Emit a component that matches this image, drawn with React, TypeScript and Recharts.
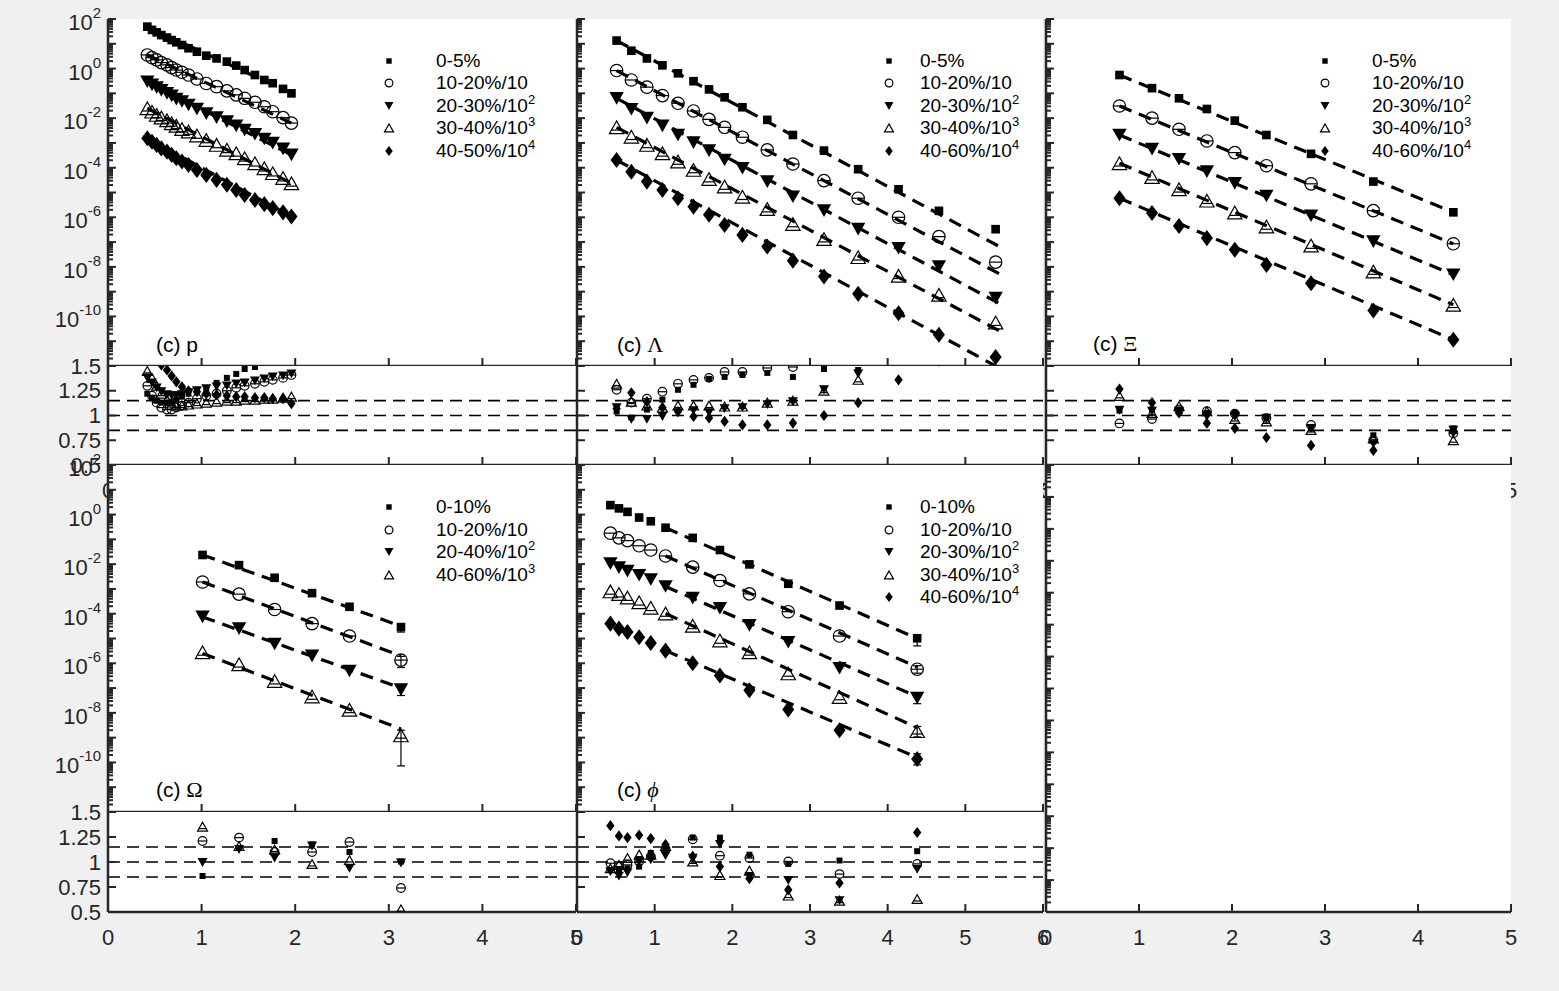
import React from "react";
import {
  ComposedChart,
  Scatter,
  Line,
  XAxis,
  YAxis,
  CartesianGrid,
  ReferenceLine,
  ErrorBar,
  Legend,
} from "recharts";

const AXIS = "#262626";
const FONT = '"Liberation Sans", Arial, Helvetica, sans-serif';
const SERIF = '"Liberation Serif", "Times New Roman", serif';

// ---- axis ticks / labels ----
const LOG_LABEL_EXP = [2, 0, -2, -4, -6, -8, -10];
const RATIO_TICKS = [0.5, 0.75, 1, 1.25, 1.5];
const RATIO_BANDS = [0.85, 1, 1.15];
const X_TICKS_5 = [0, 1, 2, 3, 4, 5];
const X_TICKS_6 = [0, 1, 2, 3, 4, 5, 6];

// ---- proton (log10 of yield) ----
const P_X = [0.42, 0.47, 0.52, 0.57, 0.63, 0.68, 0.73, 0.79, 0.86, 0.95, 1.05, 1.16, 1.27, 1.37, 1.46, 1.57, 1.67, 1.76, 1.87, 1.96];
const P_SQ = [1.69, 1.56, 1.46, 1.35, 1.25, 1.15, 1.06, 0.95, 0.82, 0.68, 0.52, 0.41, 0.28, 0.12, -0.06, -0.26, -0.46, -0.59, -0.82, -1.0];
const P_CI = [0.55, 0.44, 0.35, 0.24, 0.15, 0.04, -0.06, -0.15, -0.26, -0.42, -0.6, -0.73, -0.9, -1.06, -1.2, -1.36, -1.54, -1.74, -1.98, -2.2];
const P_TD = [-0.53, -0.66, -0.77, -0.88, -1.0, -1.1, -1.23, -1.33, -1.47, -1.63, -1.82, -1.98, -2.14, -2.31, -2.48, -2.65, -2.84, -3.01, -3.24, -3.48];
const P_TU = [-1.6, -1.74, -1.87, -1.98, -2.09, -2.21, -2.31, -2.44, -2.54, -2.7, -2.88, -3.08, -3.28, -3.42, -3.62, -3.82, -4.02, -4.22, -4.42, -4.63];
const P_DI = [-2.81, -2.95, -3.08, -3.22, -3.35, -3.48, -3.62, -3.75, -3.89, -4.09, -4.29, -4.49, -4.69, -4.9, -5.1, -5.3, -5.47, -5.63, -5.8, -5.97];
const P_FITS = [
  [0.42, 1.69, 1.96, -1.0],
  [0.42, 0.55, 1.96, -2.2],
  [0.42, -0.53, 1.96, -3.48],
  [0.42, -1.6, 1.96, -4.63],
  [0.42, -2.81, 1.96, -5.97],
];
const P_R_SQ = [1.22, 1.18, 1.15, 1.13, 1.13, 1.14, 1.16, 1.19, 1.22, 1.24, 1.26, 1.33, 1.38, 1.42, 1.47, 1.49, 1.55, 1.58, 1.6, 1.62];
const P_R_CI = [1.3, 1.2, 1.13, 1.08, 1.06, 1.06, 1.08, 1.1, 1.13, 1.17, 1.2, 1.22, 1.25, 1.28, 1.3, 1.32, 1.34, 1.36, 1.38, 1.41];
const P_R_TD = [1.38, 1.33, 1.28, 1.24, 1.21, 1.2, 1.2, 1.21, 1.23, 1.25, 1.27, 1.29, 1.3, 1.32, 1.33, 1.35, 1.37, 1.39, 1.4, 1.42];
const P_R_TU = [1.45, 1.38, 1.3, 1.22, 1.16, 1.12, 1.1, 1.1, 1.11, 1.12, 1.13, 1.14, 1.15, 1.15, 1.16, 1.16, 1.17, 1.17, 1.18, 1.19];
const P_R_DI = [1.7, 1.62, 1.56, 1.51, 1.46, 1.4, 1.34, 1.29, 1.25, 1.24, 1.22, 1.21, 1.2, 1.19, 1.19, 1.18, 1.18, 1.17, 1.17, 1.12];

// ---- Lambda ----
const LAM_X = [0.51, 0.7, 0.9, 1.1, 1.3, 1.5, 1.7, 1.9, 2.13, 2.45, 2.78, 3.18, 3.62, 4.14, 4.66, 5.39];
const LAM_SQ = [1.13, 0.72, 0.41, 0.13, -0.19, -0.51, -0.84, -1.16, -1.56, -2.07, -2.68, -3.31, -4.06, -4.87, -5.74, -6.48];
const LAM_CI = [-0.08, -0.46, -0.75, -1.09, -1.4, -1.71, -2.05, -2.37, -2.77, -3.28, -3.85, -4.52, -5.23, -6.0, -6.78, -7.81];
const LAM_TD = [-1.2, -1.64, -2.0, -2.31, -2.68, -2.99, -3.31, -3.69, -4.02, -4.56, -5.17, -5.73, -6.48, -7.25, -7.99, -9.26];
const LAM_TU = [-2.37, -2.75, -3.08, -3.42, -3.75, -4.09, -4.46, -4.76, -5.17, -5.67, -6.27, -6.88, -7.61, -8.36, -9.13, -10.25];
const LAM_DI = [-3.69, -4.16, -4.56, -4.9, -5.23, -5.57, -5.9, -6.31, -6.71, -7.18, -7.75, -8.39, -9.09, -9.87, -10.74, -11.64];
const LAM_FITS = [
  [0.51, 1.13, 5.45, -7.2],
  [0.51, -0.08, 5.45, -8.3],
  [0.51, -1.2, 5.45, -9.5],
  [0.51, -2.37, 5.45, -10.6],
  [0.51, -3.69, 5.45, -12.1],
];
const LAM_R_SQ = [1.04, 0.98, 1.06, 1.16, 1.26, 1.31, 1.37, 1.39, 1.41, 1.43, 1.39, 1.47, 1.46, 1.58, 1.65, 1.75];
const LAM_R_CI = [1.26, 1.13, 1.17, 1.24, 1.32, 1.36, 1.38, 1.44, 1.44, 1.48, 1.49, 1.55, 1.6, 1.65, 1.7, 1.8];
const LAM_R_TD = [1.08, 0.96, 0.96, 0.99, 1.03, 1.05, 1.03, 1.07, 1.08, 1.11, 1.14, 1.26, 1.42, 1.55, 1.6, 1.7];
const LAM_R_TU = [1.32, 1.14, 1.1, 1.08, 1.1, 1.1, 1.1, 1.09, 1.09, 1.13, 1.15, 1.25, 1.36, 1.55, 1.6, 1.7];
const LAM_R_DI = [1.07, 1.23, 1.14, 1.08, 1.04, 0.99, 0.975, 0.94, 0.905, 0.905, 0.923, 1.0, 1.13, 1.36, 1.55, 1.6];

// ---- Xi ----
const XI_X = [0.79, 1.14, 1.43, 1.73, 2.03, 2.37, 2.85, 3.52, 4.38];
const XI_SQ = [-0.26, -0.79, -1.2, -1.63, -2.1, -2.68, -3.44, -4.56, -5.8];
const XI_CI = [-1.51, -2.0, -2.45, -2.92, -3.39, -3.92, -4.65, -5.73, -7.07];
const XI_TD = [-2.68, -3.25, -3.66, -4.16, -4.63, -5.14, -5.94, -6.98, -8.32];
const XI_TU = [-3.82, -4.38, -4.87, -5.33, -5.81, -6.37, -7.14, -8.19, -9.53];
const XI_DI = [-5.23, -5.83, -6.35, -6.84, -7.31, -7.92, -8.66, -9.76, -10.94];
const XI_FITS = [
  [0.79, -0.26, 4.38, -5.8],
  [0.79, -1.51, 4.38, -7.07],
  [0.79, -2.68, 4.38, -8.32],
  [0.79, -3.82, 4.38, -9.53],
  [0.79, -5.23, 4.38, -10.94],
];
const XI_R_SQ = [1.05, 1.06, 1.06, 1.026, 1.026, 0.974, 0.87, 0.8, 0.87];
const XI_R_CI = [0.92, 0.964, 1.06, 1.043, 1.019, 0.974, 0.905, 0.75, 0.82];
const XI_R_TD = [1.053, 1.043, 1.043, 0.99, 0.99, 0.974, 0.87, 0.716, 0.853];
const XI_R_TU = [1.198, 1.026, 1.095, 1.043, 0.964, 0.94, 0.853, 0.767, 0.75];
const XI_R_DI = [1.267, 1.13, 1.026, 0.922, 0.87, 0.778, 0.698, 0.647, 0.836];

// ---- Omega ----
const OM_X = [1.01, 1.4, 1.78, 2.18, 2.58, 3.13];
const OM_SQ = [-1.63, -2.04, -2.55, -3.17, -3.72, -4.54];
const OM_CI = [-2.72, -3.21, -3.83, -4.4, -4.9, -5.87];
const OM_TD = [-4.13, -4.6, -5.22, -5.7, -6.31, -7.06];
const OM_TU = [-5.56, -6.04, -6.72, -7.34, -7.88, -8.91];
const OM_LAST_ERR = [[-4.74, -4.4], [-6.17, -5.72], [-7.3, -6.9], [-10.14, -8.7]];
const OM_FITS = [
  [1.01, -1.63, 3.13, -4.5],
  [1.01, -2.72, 3.13, -5.7],
  [1.01, -4.13, 3.13, -7.0],
  [1.01, -5.6, 3.13, -8.65],
];
const OM_R_SQ = [0.86, 1.14, 1.21, 1.175, 1.1, 1.005];
const OM_R_CI = [1.21, 1.244, 1.1, 1.1, 1.2, 0.74];
const OM_R_TD = [0.995, 1.125, 1.04, 1.16, 0.937, 0.99];
const OM_R_TU = [1.353, 1.16, 1.125, 0.98, 1.02, 0.527];

// ---- phi ----
const PHI_X = [0.43, 0.54, 0.65, 0.8, 0.95, 1.14, 1.49, 1.84, 2.22, 2.72, 3.38, 4.38];
const PHI_SQ = [0.38, 0.25, 0.11, -0.12, -0.27, -0.53, -0.94, -1.43, -2.01, -2.79, -3.67, -4.99];
const PHI_CI = [-0.75, -0.94, -1.05, -1.26, -1.43, -1.67, -2.12, -2.66, -3.2, -3.92, -4.9, -6.24];
const PHI_TD = [-1.98, -2.14, -2.28, -2.45, -2.62, -2.9, -3.37, -3.78, -4.47, -5.15, -6.2, -7.4];
const PHI_TU = [-3.1, -3.21, -3.35, -3.54, -3.76, -3.99, -4.49, -5.08, -5.56, -6.41, -7.36, -8.74];
const PHI_DI = [-4.4, -4.6, -4.74, -4.95, -5.18, -5.49, -6.0, -6.49, -7.09, -7.86, -8.7, -9.86];
const PHI_LAST_ERR = [[-5.3, -4.85], [-6.4, -6.1], [-7.63, -7.2], [-8.97, -8.55], [-10.1, -9.65]];
const PHI_FITS = [
  [1.14, -0.53, 4.38, -5.0],
  [1.14, -1.67, 4.38, -6.15],
  [1.14, -2.9, 4.38, -7.35],
  [1.14, -3.99, 4.38, -8.6],
  [1.14, -5.49, 4.38, -9.8],
];
const PHI_R_SQ = [0.92, 0.927, 0.937, 0.954, 1.09, 1.125, 1.244, 1.244, 1.073, 0.981, 1.015, 1.108];
const PHI_R_CI = [0.988, 0.954, 0.971, 1.005, 1.056, 1.131, 1.227, 1.063, 1.039, 1.005, 0.879, 0.981];
const PHI_R_TD = [0.903, 0.858, 0.893, 1.005, 1.022, 1.063, 1.039, 1.176, 0.852, 0.817, 0.613, 0.927];
const PHI_R_TU = [0.937, 0.971, 1.039, 1.073, 1.073, 1.159, 1.005, 0.869, 0.913, 0.664, 0.613, 0.63];
const PHI_R_DI = [1.363, 1.261, 1.244, 1.268, 1.234, 1.176, 1.056, 0.954, 0.834, 0.722, 0.79, 1.295];

// ---- legends ----
const LEG_P = ["0-5%", "10-20%/10", "20-30%/10^2", "30-40%/10^3", "40-50%/10^4"];
const LEG_5 = ["0-5%", "10-20%/10", "20-30%/10^2", "30-40%/10^3", "40-60%/10^4"];
const LEG_OM = ["0-10%", "10-20%/10", "20-40%/10^2", "40-60%/10^3"];
const LEG_PHI = ["0-10%", "10-20%/10", "20-30%/10^2", "30-40%/10^3", "40-60%/10^4"];

type Kind = "sq" | "ci" | "td" | "tu" | "di";
const KINDS: Kind[] = ["sq", "ci", "td", "tu", "di"];

interface Pt { x: number; y: number; e?: number[] }

function logRows(xs: number[], logs: number[], lastErr?: number[]): Pt[] {
  return xs.map((x, i) => {
    const y = 10 ** logs[i];
    const row: Pt = { x, y };
    if (lastErr && i === xs.length - 1) row.e = [y - 10 ** lastErr[0], 10 ** lastErr[1] - y];
    return row;
  });
}
const linRows = (xs: number[], ys: number[]): Pt[] => xs.map((x, i) => ({ x, y: ys[i] }));
const fitRows = (f: number[]): Pt[] => [{ x: f[0], y: 10 ** f[1] }, { x: f[2], y: 10 ** f[3] }];

const LOG_TICKS: number[] = [];
for (let k = -12; k <= 2; k++) {
  LOG_TICKS.push(10 ** k);
  if (k < 2) for (let m = 2; m <= 9; m++) LOG_TICKS.push(m * 10 ** k);
}

function drawMark(kind: Kind, cx: number, cy: number, s = 1, bar = true) {
  if (!Number.isFinite(cx) || !Number.isFinite(cy)) return <g />;
  const sw = 1.2;
  if (kind === "sq") {
    const a = 7.5 * s;
    return <rect x={cx - a / 2} y={cy - a / 2} width={a} height={a} fill="#000" />;
  }
  if (kind === "ci") {
    const r = 5.4 * s;
    return (
      <g>
        <circle cx={cx} cy={cy} r={r} fill="none" stroke="#000" strokeWidth={sw} />
        {bar ? <line x1={cx - r} x2={cx + r} y1={cy} y2={cy} stroke="#000" strokeWidth={sw} /> : null}
      </g>
    );
  }
  if (kind === "td") {
    const w = 12.5 * s, h = 11 * s;
    return <path d={`M${cx - w / 2},${cy - h / 2}L${cx + w / 2},${cy - h / 2}L${cx},${cy + h / 2}Z`} fill="#000" />;
  }
  if (kind === "tu") {
    const w = 12.5 * s, h = 11 * s;
    return (
      <g>
        <path d={`M${cx - w / 2},${cy + h / 2}L${cx + w / 2},${cy + h / 2}L${cx},${cy - h / 2}Z`} fill="none" stroke="#000" strokeWidth={sw} />
        {bar ? <line x1={cx - w * 0.36} x2={cx + w * 0.36} y1={cy + h * 0.22} y2={cy + h * 0.22} stroke="#000" strokeWidth={sw} /> : null}
      </g>
    );
  }
  const w = 10.5 * s, h = 14 * s;
  return <path d={`M${cx},${cy - h / 2}L${cx + w / 2},${cy}L${cx},${cy + h / 2}L${cx - w / 2},${cy}Z`} fill="#000" />;
}

type Side = "l" | "r" | "t" | "b";
const tickFor = (side: Side, log: boolean, labels: boolean) => (p: any) => {
  const { x, y, payload } = p;
  const v = payload.value as number;
  let len = 8;
  let lab: React.ReactNode = null;
  if (log) {
    const e = Math.log10(v);
    const re = Math.round(e);
    const dec = Math.abs(e - re) < 1e-6;
    len = dec ? 8 : 5;
    if (labels && dec && LOG_LABEL_EXP.includes(re)) {
      lab = (
        <text x={x - 7} y={y + 11} textAnchor="end" fontSize={22} fill={AXIS} fontFamily={FONT}>
          10<tspan dy={-12} fontSize={15}>{re}</tspan>
        </text>
      );
    }
  } else if (labels) {
    lab =
      side === "l" ? (
        <text x={x - 7} y={y + 7.5} textAnchor="end" fontSize={22} fill={AXIS} fontFamily={FONT}>{String(v)}</text>
      ) : (
        <text x={x} y={y + 33} textAnchor="middle" fontSize={22} fill={AXIS} fontFamily={FONT}>{String(v)}</text>
      );
  }
  const c =
    side === "l" ? [x, y, x + len, y] : side === "r" ? [x, y, x - len, y] : side === "b" ? [x, y, x, y - len] : [x, y, x, y + len];
  return (
    <g>
      <line x1={c[0]} y1={c[1]} x2={c[2]} y2={c[3]} stroke={AXIS} strokeWidth={2} />
      {lab}
    </g>
  );
};

function supText(s: string) {
  const [a, b] = s.split("^");
  return (
    <>
      {a}
      {b ? <span style={{ fontSize: 13, position: "relative", top: -8 }}>{b}</span> : null}
    </>
  );
}

const PADL = 110, PADR = 10, PADT = 16, PADB = 44;

interface LegendSpec { labels: string[]; mx: number; tx: number; y0: number }
interface TagSpec { pre: string; sym: string; serif?: boolean; italic?: boolean; x: number; y: number }

interface PanelProps {
  left: number; top: number; w: number; h: number; xMax: number;
  mode: "log" | "ratio" | "blank";
  yLabels?: boolean; xLabels?: boolean;
  series?: { kind: Kind; rows: Pt[] }[];
  fits?: Pt[][];
  k?: number;
  legend?: LegendSpec;
  tag?: TagSpec;
}

function Panel({ left, top, w, h, xMax, mode, yLabels = false, xLabels = false, series = [], fits = [], k = 1, legend, tag }: PanelProps) {
  const W = w + PADL + PADR;
  const H = h + PADT + PADB;
  const xTicks = xMax === 6 ? X_TICKS_6 : X_TICKS_5;
  const isLog = mode !== "ratio";
  const yDomain = isLog ? [1e-12, 100] : [0.5, 1.5];
  const yTicks = isLog ? LOG_TICKS : RATIO_TICKS;
  const ax = { stroke: AXIS, strokeWidth: 2.5 };
  const blank = mode === "blank";

  const overlay = (
    <div style={{ position: "relative", width: W, height: H, fontFamily: FONT, color: "#000" }}>
      {legend
        ? legend.labels.map((lab, i) => {
            const y = PADT + legend.y0 + i * 22.5;
            return (
              <React.Fragment key={lab}>
                <svg style={{ position: "absolute", left: PADL + legend.mx - 8, top: y - 8 }} width={16} height={16}>
                  {drawMark(KINDS[i], 8, 8, 0.72, false)}
                </svg>
                <div style={{ position: "absolute", left: PADL + legend.tx, top: y - 12, fontSize: 19, lineHeight: "24px", whiteSpace: "nowrap" }}>
                  {supText(lab)}
                </div>
              </React.Fragment>
            );
          })
        : null}
      {tag ? (
        <div style={{ position: "absolute", left: PADL + tag.x, top: PADT + tag.y - 13, fontSize: 21, lineHeight: "26px", whiteSpace: "nowrap" }}>
          {tag.pre}
          <span style={{ fontFamily: tag.serif ? SERIF : FONT, fontStyle: tag.italic ? "italic" : "normal", fontSize: tag.serif ? 22 : 21 }}>{tag.sym}</span>
        </div>
      ) : null}
    </div>
  );

  return (
    <div style={{ position: "absolute", left: left - PADL, top: top - PADT, width: W, height: H }}>
      <ComposedChart width={W} height={H} margin={{ top: PADT, right: PADR, bottom: 0, left: 0 }}>
        <CartesianGrid xAxisId="b" yAxisId="l" horizontal={false} vertical={false} fill="#ffffff" fillOpacity={1} />
        <XAxis xAxisId="b" type="number" dataKey="x" domain={[0, xMax]} ticks={xTicks} interval={0} allowDataOverflow
          height={PADB} tickSize={0} tickMargin={0} tickLine={false} axisLine={ax} tick={tickFor("b", false, xLabels)} />
        <XAxis xAxisId="t" orientation="top" type="number" dataKey="x" domain={[0, xMax]} ticks={xTicks} interval={0} allowDataOverflow
          height={0} tickSize={0} tickMargin={0} tickLine={false} axisLine={ax} tick={blank ? false : tickFor("t", false, false)} />
        <YAxis yAxisId="l" type="number" dataKey="y" scale={isLog ? "log" : "linear"} domain={yDomain} ticks={yTicks} interval={0} allowDataOverflow
          width={PADL} tickSize={0} tickMargin={0} tickLine={false} axisLine={ax} tick={tickFor("l", isLog, yLabels)} />
        <YAxis yAxisId="r" orientation="right" type="number" dataKey="y" scale={isLog ? "log" : "linear"} domain={yDomain} ticks={yTicks} interval={0} allowDataOverflow
          width={0} tickSize={0} tickMargin={0} tickLine={false} axisLine={ax} tick={blank ? false : tickFor("r", isLog, false)} />
        {mode === "ratio"
          ? RATIO_BANDS.map((v) => (
              <ReferenceLine key={v} xAxisId="b" yAxisId="l" y={v} stroke="#000" strokeWidth={1.6} strokeDasharray="12 7" />
            ))
          : null}
        {fits.map((f, i) => (
          <Line key={"f" + i} xAxisId="b" yAxisId="l" data={f} dataKey="y" type="linear" stroke="#000" strokeWidth={3.2}
            strokeDasharray="13 8" dot={false} activeDot={false} isAnimationActive={false} legendType="none" />
        ))}
        {series.map((s, i) => (
          <Scatter key={"s" + i} xAxisId="b" yAxisId="l" data={s.rows} dataKey="y" isAnimationActive={false} legendType="none"
            shape={(p: any) => drawMark(s.kind, p.cx, p.cy, k, true)}>
            {s.rows.some((r) => r.e) ? <ErrorBar dataKey="e" direction="y" width={4} stroke="#000" strokeWidth={1.2} /> : null}
          </Scatter>
        ))}
        {legend || tag ? (
          <Legend layout="vertical" align="center" verticalAlign="middle"
            wrapperStyle={{ left: 0, top: 0, width: W, height: H, pointerEvents: "none" }}
            content={() => overlay} />
        ) : null}
      </ComposedChart>
    </div>
  );
}

const mainSeries = (xs: number[], sets: number[][], errs?: number[][]) =>
  sets.map((s, i) => ({ kind: KINDS[i], rows: logRows(xs, s, errs ? errs[i] : undefined) }));
const ratioSeries = (xs: number[], sets: number[][]) => sets.map((s, i) => ({ kind: KINDS[i], rows: linRows(xs, s) }));

const C1 = 108, C2 = 577, C3 = 1046;
const W1 = 468, W2 = 466, W3 = 465;
const R1 = 19, R1R = 366, R2 = 465, R2R = 812;

export default function App() {
  const mk = 1.15;
  const rk = 0.8;
  return (
    <div style={{ position: "absolute", left: 0, top: 0, width: 1559, height: 991, background: "#f0f0f0", overflow: "hidden", fontFamily: FONT }}>
      <Panel left={C1} top={R1} w={W1} h={347} xMax={5} mode="log" yLabels k={mk}
        series={mainSeries(P_X, [P_SQ, P_CI, P_TD, P_TU, P_DI])} fits={P_FITS.map(fitRows)}
        legend={{ labels: LEG_P, mx: 281, tx: 328, y0: 41.5 }} tag={{ pre: "(c) ", sym: "p", x: 48, y: 326 }} />
      <Panel left={C1} top={R1R} w={W1} h={99} xMax={5} mode="ratio" yLabels xLabels k={rk}
        series={ratioSeries(P_X, [P_R_SQ, P_R_CI, P_R_TD, P_R_TU, P_R_DI])} />

      <Panel left={C2} top={R1} w={W2} h={347} xMax={6} mode="log" k={mk}
        series={mainSeries(LAM_X, [LAM_SQ, LAM_CI, LAM_TD, LAM_TU, LAM_DI])} fits={LAM_FITS.map(fitRows)}
        legend={{ labels: LEG_5, mx: 312, tx: 343, y0: 41.5 }} tag={{ pre: "(c) ", sym: "Λ", serif: true, x: 40, y: 326 }} />
      <Panel left={C2} top={R1R} w={W2} h={99} xMax={6} mode="ratio" xLabels k={rk}
        series={ratioSeries(LAM_X, [LAM_R_SQ, LAM_R_CI, LAM_R_TD, LAM_R_TU, LAM_R_DI])} />

      <Panel left={C3} top={R1} w={W3} h={347} xMax={5} mode="log" k={mk}
        series={mainSeries(XI_X, [XI_SQ, XI_CI, XI_TD, XI_TU, XI_DI])} fits={XI_FITS.map(fitRows)}
        legend={{ labels: LEG_5, mx: 279, tx: 326, y0: 41.5 }} tag={{ pre: "(c) ", sym: "Ξ", serif: true, x: 47, y: 325 }} />
      <Panel left={C3} top={R1R} w={W3} h={99} xMax={5} mode="ratio" xLabels k={rk}
        series={ratioSeries(XI_X, [XI_R_SQ, XI_R_CI, XI_R_TD, XI_R_TU, XI_R_DI])} />

      <Panel left={C1} top={R2} w={W1} h={347} xMax={5} mode="log" yLabels k={mk}
        series={mainSeries(OM_X, [OM_SQ, OM_CI, OM_TD, OM_TU], OM_LAST_ERR)} fits={OM_FITS.map(fitRows)}
        legend={{ labels: LEG_OM, mx: 281, tx: 328, y0: 42 }} tag={{ pre: "(c) ", sym: "Ω", serif: true, x: 48, y: 325 }} />
      <Panel left={C1} top={R2R} w={W1} h={100} xMax={5} mode="ratio" yLabels xLabels k={rk}
        series={ratioSeries(OM_X, [OM_R_SQ, OM_R_CI, OM_R_TD, OM_R_TU])} />

      <Panel left={C2} top={R2} w={W2} h={347} xMax={6} mode="log" k={mk}
        series={mainSeries(PHI_X, [PHI_SQ, PHI_CI, PHI_TD, PHI_TU, PHI_DI], PHI_LAST_ERR)} fits={PHI_FITS.map(fitRows)}
        legend={{ labels: LEG_PHI, mx: 312, tx: 343, y0: 42 }} tag={{ pre: "(c) ", sym: "ϕ", serif: true, italic: true, x: 40, y: 325 }} />
      <Panel left={C2} top={R2R} w={W2} h={100} xMax={6} mode="ratio" xLabels k={rk}
        series={ratioSeries(PHI_X, [PHI_R_SQ, PHI_R_CI, PHI_R_TD, PHI_R_TU, PHI_R_DI])} />

      <Panel left={C3} top={R2} w={W3} h={447} xMax={5} mode="blank" xLabels />
    </div>
  );
}
